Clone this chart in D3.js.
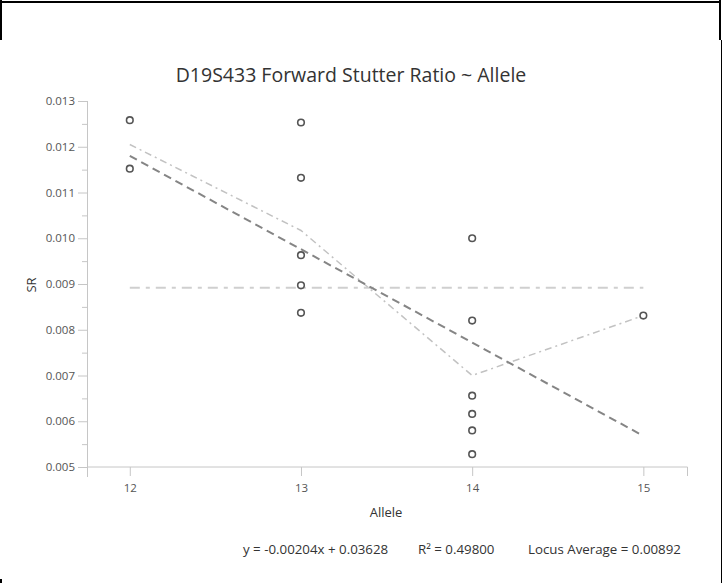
<!DOCTYPE html>
<html lang="en">
<head>
<meta charset="UTF-8">
<title>D19S433 Forward Stutter Ratio ~ Allele</title>
<script src="https://d3js.org/d3.v7.min.js"></script>
<style>
  html, body { margin: 0; padding: 0; background: #fff; }
  svg { display: block; font-family: "Segoe UI", "Open Sans", "Noto Sans", sans-serif; }
</style>
</head>
<body>
<div id="chart"></div>
<script>
// DATA //
var alleles = [12, 12, 13, 13, 13, 13, 13, 14, 14, 14, 14, 14, 14, 15];
var ratios  = [0.01258, 0.01152, 0.01253, 0.01132, 0.00963, 0.00897, 0.00837,
               0.01000, 0.00820, 0.00656, 0.00616, 0.00580, 0.00528, 0.00831];
var meanAlleles = [12, 13, 14, 15];
var meanRatios  = [0.01205, 0.01017, 0.00700, 0.00831];
var trendAlleles = [12, 15];
var trendRatios  = [0.01180, 0.00568];
var locusAverage = 0.00892;
var xTicks = [12, 13, 14, 15];
var yTicks = [0.005, 0.006, 0.007, 0.008, 0.009, 0.010, 0.011, 0.012, 0.013];
var footerTexts = ["y = -0.00204x + 0.03628", "R\u00B2 = 0.49800", "Locus Average = 0.00892"];

// DIMENZIJE //
var W = 724, H = 583;
var margin = {top: 101, right: 37, bottom: 116, left: 87};
var width = W - margin.left - margin.right,
    height = H - margin.top - margin.bottom;

var svg = d3.select("#chart").append("svg")
    .attr("width", W).attr("height", H);

// okvir
svg.append("line").attr("x1", 0).attr("x2", 721).attr("y1", 2).attr("y2", 2)
  .attr("stroke", "#000").attr("stroke-width", 2);
svg.append("line").attr("x1", 1).attr("x2", 1).attr("y1", 0).attr("y2", 40)
  .attr("stroke", "#000").attr("stroke-width", 2);
svg.append("line").attr("x1", 720).attr("x2", 720).attr("y1", 0).attr("y2", 40)
  .attr("stroke", "#000").attr("stroke-width", 2);
svg.append("line").attr("x1", 721.5).attr("x2", 721.5).attr("y1", 40).attr("y2", 583)
  .attr("stroke", "#000").attr("stroke-width", 1);
svg.append("line").attr("x1", 1).attr("x2", 1).attr("y1", 579).attr("y2", 583)
  .attr("stroke", "#000").attr("stroke-width", 2);

var g = svg.append("g")
  .attr("transform", "translate(" + margin.left + "," + margin.top + ")");

var x = d3.scaleLinear().domain([11.75, 15.255]).range([0, width]);
var y = d3.scaleLinear().domain([0.005, 0.013]).range([height, 0]);

// X os
var xAxis = g.append("g")
  .attr("transform", "translate(0," + height + ")")
  .call(d3.axisBottom(x).tickValues(xTicks.concat([15.255])).tickSize(9)
        .tickFormat(function(d) { return xTicks.indexOf(d) >= 0 ? d3.format("d")(d) : ""; }));
xAxis.select(".domain").attr("d", "M0.5,0H" + (width + 0.5));

// Y os
var yMinor = d3.range(0, yTicks.length - 1).map(function(i) { return (yTicks[i] + yTicks[i + 1]) / 2; });
var yAxisMinor = g.append("g")
  .call(d3.axisLeft(y).tickValues(yMinor).tickSize(5).tickFormat(""));
yAxisMinor.select(".domain").remove();
var yAxis = g.append("g")
  .call(d3.axisLeft(y).tickValues(yTicks).tickSize(9).tickFormat(d3.format(".3f")).tickPadding(3));
yAxis.select(".domain").attr("d", "M0.5,0V" + (height + 10));

g.selectAll(".tick line").attr("stroke", "#c6c6c6");
g.selectAll(".domain").attr("stroke", "#c6c6c6");
g.selectAll(".tick text").attr("fill", "#555").style("font-size", "11.5px")
  .style("font-family", "\"Segoe UI\", \"Open Sans\", \"Noto Sans\", sans-serif");
xAxis.selectAll(".tick text").attr("dy", "1.1em");

// linija prosjeka lokusa
g.append("line")
  .attr("x1", x(12)).attr("x2", x(15))
  .attr("y1", y(locusAverage)).attr("y2", y(locusAverage))
  .attr("stroke", "#cfcfcf").attr("stroke-width", 2)
  .attr("stroke-dasharray", "10,6,4,6");

// prosjeci po alelu
var line = d3.line()
  .x(function(d) { return x(d[0]); })
  .y(function(d) { return y(d[1]); });
g.append("path")
  .datum(d3.zip(meanAlleles, meanRatios))
  .attr("fill", "none").attr("stroke", "#c2c2c2").attr("stroke-width", 1.5)
  .attr("stroke-dasharray", "7,4,2,4")
  .attr("d", line);

// regresija
g.append("path")
  .datum(d3.zip(trendAlleles, trendRatios))
  .attr("fill", "none").attr("stroke", "#858585").attr("stroke-width", 2)
  .attr("stroke-dasharray", "8,5")
  .attr("d", line);

// tocke
g.selectAll("circle.pt")
  .data(d3.zip(alleles, ratios))
  .enter().append("circle")
  .attr("class", "pt")
  .attr("cx", function(d) { return x(d[0]); })
  .attr("cy", function(d) { return y(d[1]); })
  .attr("r", 3.3)
  .attr("fill", "#fff").attr("stroke", "#555").attr("stroke-width", 1.6);

// naslovi
svg.append("text")
  .attr("x", 351).attr("y", 82)
  .attr("text-anchor", "middle")
  .attr("fill", "#333").style("font-size", "19.5px")
  .text("D19S433 Forward Stutter Ratio ~ Allele");

svg.append("text")
  .attr("transform", "translate(36,285) rotate(-90)")
  .attr("text-anchor", "middle")
  .attr("fill", "#333").style("font-size", "13px")
  .text("SR");

svg.append("text")
  .attr("x", 386).attr("y", 517)
  .attr("text-anchor", "middle")
  .attr("fill", "#333").style("font-size", "13px")
  .text("Allele");

// footer
var footerX = [243, 418, 528];
footerTexts.forEach(function(t, i) {
  svg.append("text")
    .attr("x", footerX[i]).attr("y", 554)
    .attr("fill", "#333").style("font-size", "13.3px")
    .text(t);
});
</script>
</body>
</html>
